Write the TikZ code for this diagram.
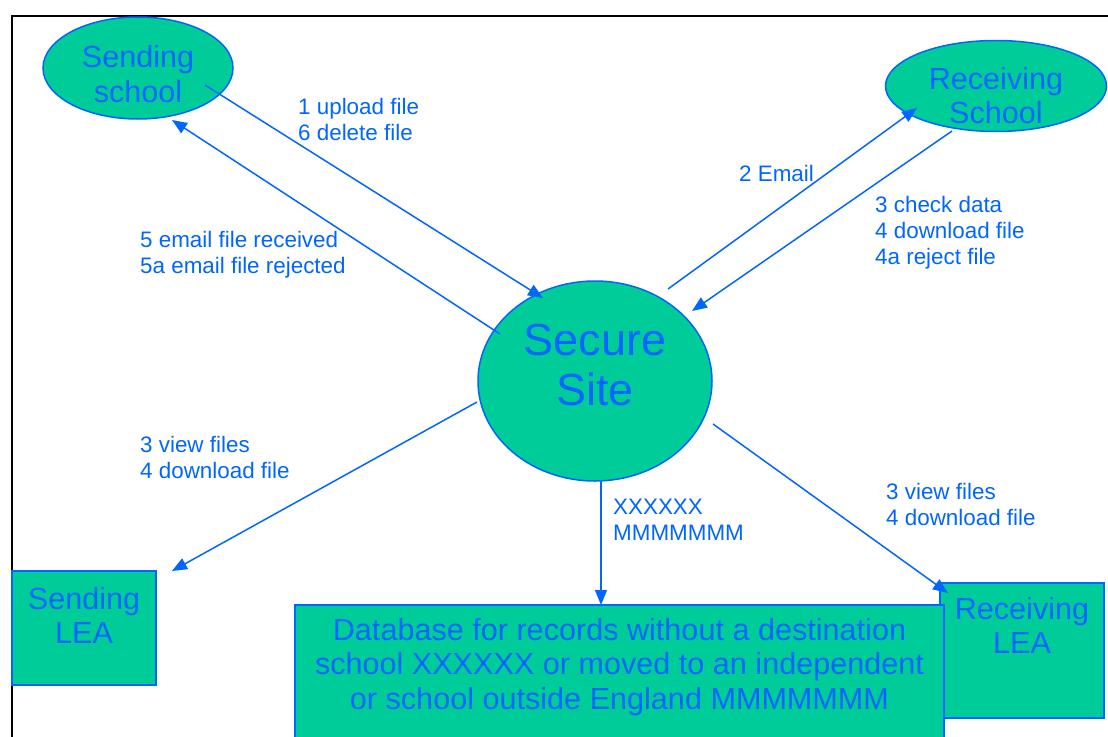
\documentclass[tikz,border=0pt]{standalone}
\usepackage{fontspec}
\setmainfont{Liberation Sans}
\usetikzlibrary{arrows.meta,calc,shapes.geometric}
\definecolor{fillg}{RGB}{0,204,153}
\definecolor{blu}{RGB}{0,102,255}
\begin{document}
\begin{tikzpicture}[x=1pt,y=-1pt,
  shapebox/.style={draw=blu, line width=1.5pt, fill=fillg, inner sep=0pt, outer sep=0pt},
  oval/.style={shapebox, ellipse},
  rect/.style={shapebox, rectangle},
  bigtxt/.style={text=blu, align=center, inner sep=0pt, font=\fontsize{30.6}{34.5}\selectfont},
  hugetxt/.style={text=blu, align=center, inner sep=0pt, font=\fontsize{45}{50}\selectfont},
  lbl/.style={text=blu, align=left, anchor=west, inner sep=0pt, font=\fontsize{22.4}{26}\selectfont},
  conn/.style={draw=blu, line width=1.5pt, -{Triangle[length=15pt,width=12pt]}},
]
\useasboundingbox (0,0) rectangle (1108,736);
\clip (0,0) rectangle (1108,736);
\fill[white] (0,0) rectangle (1108,736);

% frame
\draw[line width=2pt, black] (12,737) -- (12,16) -- (1109,16);

% shapes
\node[oval, minimum width=190pt, minimum height=102pt,
  label={[bigtxt, yshift=-6pt]center:{Sending\\school}}] (ss) at (138,68) {};
\node[oval, minimum width=221pt, minimum height=91pt,
  label={[bigtxt, yshift=-9.5pt]center:{Receiving\\School}}] (rs) at (996,86) {};
\node[oval, minimum width=234pt, minimum height=200pt,
  label={[hugetxt, yshift=16pt]center:{Secure\\Site}}] (sec) at (595,381) {};
\node[rect, minimum width=144pt, minimum height=114pt,
  label={[bigtxt, yshift=12.5pt]center:{Sending\\LEA}}] (slea) at (84,628) {};
\node[rect, minimum width=164pt, minimum height=135pt,
  label={[bigtxt, yshift=25pt]center:{Receiving\\LEA}}] (rlea) at (1022,650.5) {};
\node[rect, minimum width=649pt, minimum height=140pt,
  label={[bigtxt, yshift=8pt]center:{Database for records without a destination\\school XXXXXX or moved to an independent\\or school outside England MMMMMMM}}] (db) at (619.5,675) {};

% connectors
\draw[conn] ($(ss.center)+(67,17)$) -- ($(sec.center)+(-52,-83)$);
\draw[conn] ($(sec.center)+(-95,-47)$) -- ($(ss.center)+(34,52)$);
\draw[conn] ($(sec.center)+(73,-92)$) -- ($(rs.center)+(-79,22)$);
\draw[conn] ($(rs.center)+(-44,45)$) -- ($(sec.center)+(97,-70)$);
\draw[conn] ($(sec.center)+(-118,21)$) -- ($(slea.center)+(88,-57)$);
\draw[conn] ($(sec.center)+(118,43)$) -- ($(rlea.center)+(-74,-57.5)$);
\draw[conn] ($(sec.south)+(6,0)$) -- ($(db.north)+(-18.5,0)$);

% labels
\node[lbl] (l1) at (298,119) {1 upload file\\6 delete file};
\node[lbl] (l5) at (140,254.5) {5 email file received\\5a email file rejected};
\node[lbl] (l2) at (739,173) {2 Email};
\node[lbl] (l3) at (875,233) {3 check data\\4 download file\\4a reject file};
\node[lbl] (l4) at (140,457.5) {3 view files\\4 download file};
\node[lbl] (lx) at (613,520) {XXXXXX\\MMMMMMM};
\node[lbl] (l6) at (886,504) {3 view files\\4 download file};
\end{tikzpicture}
\end{document}
